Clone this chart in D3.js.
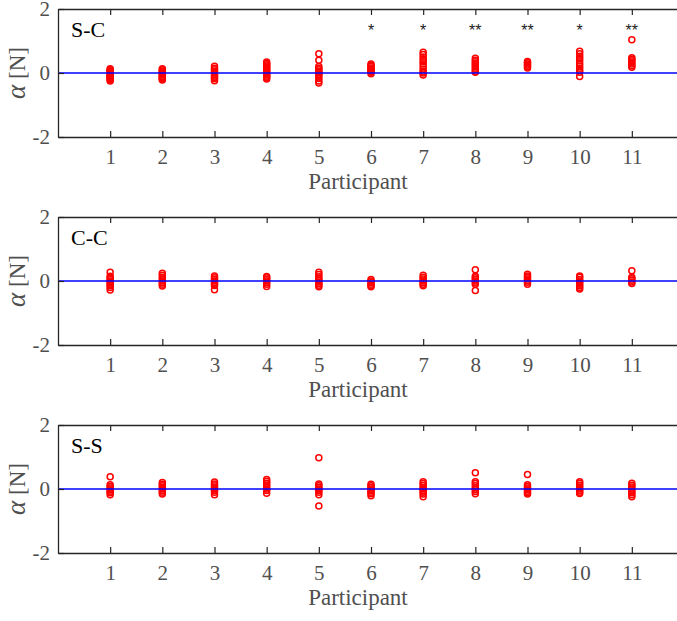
<!DOCTYPE html>
<html>
<head>
<meta charset="utf-8">
<script src="https://cdn.jsdelivr.net/npm/d3@7"></script>
<style>
  html, body { margin: 0; padding: 0; background: #fff; }
  svg { display: block; }
</style>
</head>
<body>
<div id="chart"></div>
<script>
// =========================
// DATA
// =========================
const participants = [1, 2, 3, 4, 5, 6, 7, 8, 9, 10, 11];
const yTicks = [-2, 0, 2];
const panelNames = ["S-C", "C-C", "S-S"];

// alpha [N] per trial, one list per participant
const scValues = [
    [0.13, 0.1, 0.07, 0.04, 0.02, 0, -0.03, -0.06, -0.09, -0.12, -0.15, -0.18, -0.21, -0.25],
    [0.13, 0.1, 0.06, 0.03, 0, -0.03, -0.06, -0.1, -0.13, -0.16, -0.19, -0.22],
    [0.21, 0.15, 0.1, 0.05, 0, -0.05, -0.1, -0.14, -0.18, -0.24],
    [0.34, 0.3, 0.26, 0.22, 0.18, 0.14, 0.1, 0.06, 0.02, -0.02, -0.06, -0.1, -0.14, -0.19],
    [0.6, 0.4, 0.2, 0.15, 0.1, 0.05, 0, -0.05, -0.1, -0.17, -0.25, -0.31],
    [0.28, 0.24, 0.2, 0.16, 0.12, 0.08, 0.05, 0.02, -0.02],
    [0.65, 0.58, 0.5, 0.42, 0.35, 0.28, 0.2, 0.12, 0.05, 0, -0.06],
    [0.46, 0.4, 0.35, 0.3, 0.25, 0.2, 0.15, 0.1, 0.05, 0.02],
    [0.36, 0.32, 0.28, 0.24, 0.2, 0.16],
    [0.68, 0.6, 0.52, 0.45, 0.38, 0.3, 0.22, 0.15, 0.08, 0.02, -0.11],
    [1.04, 0.48, 0.43, 0.38, 0.33, 0.28, 0.23, 0.18]
];
const ccValues = [
    [0.27, 0.15, 0.1, 0.05, 0, -0.05, -0.1, -0.15, -0.2, -0.28],
    [0.24, 0.18, 0.12, 0.06, 0, -0.05, -0.1, -0.16],
    [0.16, 0.1, 0.05, 0, -0.05, -0.1, -0.14, -0.27],
    [0.14, 0.1, 0.05, 0, -0.05, -0.1, -0.17],
    [0.27, 0.2, 0.13, 0.07, 0.02, -0.03, -0.08, -0.13, -0.18],
    [0.05, 0, -0.05, -0.1, -0.15, -0.18],
    [0.18, 0.12, 0.06, 0, -0.05, -0.1, -0.15],
    [0.35, 0.15, 0.1, 0.05, 0, -0.05, -0.1, -0.3],
    [0.21, 0.16, 0.11, 0.06, 0.01, -0.04, -0.1],
    [0.16, 0.12, 0.05, 0, -0.05, -0.1, -0.15, -0.2, -0.25],
    [0.32, 0.12, 0.07, 0.02, -0.03, -0.08]
];
const ssValues = [
    [0.38, 0.13, 0.08, 0.03, -0.02, -0.07, -0.12, -0.18],
    [0.2, 0.15, 0.1, 0.05, 0, -0.05, -0.1, -0.16],
    [0.22, 0.16, 0.1, 0.05, 0, -0.05, -0.1, -0.18],
    [0.3, 0.24, 0.18, 0.12, 0.06, 0, -0.05, -0.13],
    [0.98, 0.16, 0.1, 0.05, 0, -0.05, -0.1, -0.18, -0.53],
    [0.15, 0.1, 0.05, 0, -0.05, -0.1, -0.15, -0.21],
    [0.23, 0.17, 0.11, 0.05, 0, -0.05, -0.1, -0.16, -0.24],
    [0.51, 0.23, 0.17, 0.1, 0.04, -0.02, -0.08, -0.15],
    [0.45, 0.13, 0.08, 0.03, -0.02, -0.07, -0.12, -0.16],
    [0.23, 0.18, 0.12, 0.06, 0, -0.05, -0.1, -0.14],
    [0.18, 0.12, 0.06, 0, -0.06, -0.12, -0.18, -0.24]
];

// significance marks for the S-C panel
const scStars = ["", "", "", "", "", "*", "*", "**", "**", "*", "**"];

const panels = [
    { name: panelNames[0], values: scValues, stars: scStars },
    { name: panelNames[1], values: ccValues, stars: null },
    { name: panelNames[2], values: ssValues, stars: null }
];

// =========================
// LAYOUT
// =========================
const W = 677, H = 621;
const left = 58, right = 684;      // right border sits just outside the window
const panelTop = [9, 217, 425];
const panelH = 128;
const font = "'Liberation Serif', 'Times New Roman', serif";
const axisColor = "#262626";
const textColor = "#505050";

const svg = d3.select("#chart")
    .append("svg")
    .attr("width", W)
    .attr("height", H);

const x = d3.scaleLinear()
    .domain([0, 12])
    .range([left, right]);

panels.forEach((p, pi) => {
    const top = panelTop[pi];
    const y = d3.scaleLinear()
        .domain([-2, 2])
        .range([top + panelH, top]);

    const g = svg.append("g");

    // points
    const pts = [];
    p.values.forEach((vals, i) => {
        vals.forEach(v => pts.push({ part: participants[i], v }));
    });

    g.selectAll("circle.pt")
        .data(pts)
        .enter()
        .append("circle")
        .attr("class", "pt")
        .attr("cx", d => x(d.part))
        .attr("cy", d => y(d.v))
        .attr("r", 3)
        .attr("fill", "none")
        .attr("stroke", "#ff0000")
        .attr("stroke-width", 1.5);

    // zero line
    g.append("line")
        .attr("x1", x(0))
        .attr("x2", x(12))
        .attr("y1", y(0))
        .attr("y2", y(0))
        .attr("stroke", "#0000ff")
        .attr("stroke-width", 1.5);

    // bottom axis (ticks inward)
    const bottom = g.append("g")
        .attr("transform", `translate(0,${top + panelH})`)
        .attr("font-family", null)
        .call(d3.axisBottom(x).tickValues(participants).tickSizeInner(-6).tickSizeOuter(0).tickPadding(12));
    bottom.select(".domain").attr("stroke", axisColor).attr("stroke-width", 1.3);
    bottom.selectAll(".tick line").attr("stroke", axisColor).attr("stroke-width", 1.2);
    bottom.selectAll(".tick text")
        .attr("fill", textColor)
        .style("font-family", font)
        .style("font-size", "21px");

    // top axis, no labels
    const topAx = g.append("g")
        .attr("transform", `translate(0,${top})`)
        .call(d3.axisTop(x).tickValues(participants).tickSizeInner(-6).tickSizeOuter(0).tickFormat(""));
    topAx.select(".domain").attr("stroke", axisColor).attr("stroke-width", 1.3);
    topAx.selectAll(".tick line").attr("stroke", axisColor).attr("stroke-width", 1.2);

    // left axis
    const leftAx = g.append("g")
        .attr("transform", `translate(${left},0)`)
        .call(d3.axisLeft(y).tickValues(yTicks).tickFormat(d => String(d))
            .tickSizeInner(-6).tickSizeOuter(0).tickPadding(8));
    leftAx.select(".domain").attr("stroke", axisColor).attr("stroke-width", 1.3);
    leftAx.selectAll(".tick line").attr("stroke", axisColor).attr("stroke-width", 1.2);
    leftAx.selectAll(".tick text")
        .attr("fill", textColor)
        .style("font-family", font)
        .style("font-size", "21px");

    // axis titles
    g.append("text")
        .attr("x", x(5.75))
        .attr("y", top + panelH + 52)
        .attr("text-anchor", "middle")
        .attr("fill", textColor)
        .style("font-family", font)
        .style("font-size", "23px")
        .text("Participant");

    const yl = g.append("text")
        .attr("transform", `translate(25,${y(0)}) rotate(-90)`)
        .attr("text-anchor", "middle")
        .attr("fill", textColor)
        .style("font-family", font)
        .style("font-size", "23px");
    yl.append("tspan").style("font-style", "italic").style("font-size", "27px").text("α");
    yl.append("tspan").text(" [N]");

    // panel name
    g.append("text")
        .attr("x", left + 13)
        .attr("y", top + 28)
        .attr("fill", "#000")
        .style("font-family", font)
        .style("font-size", "22px")
        .text(p.name);

    // significance stars
    if (p.stars) {
        g.selectAll("text.star")
            .data(p.stars.map((s, i) => ({ s, part: participants[i] })).filter(d => d.s))
            .enter()
            .append("text")
            .attr("class", "star")
            .attr("x", d => x(d.part))
            .attr("y", top + 27)
            .attr("text-anchor", "middle")
            .attr("fill", "#222")
            .style("font-family", "'Liberation Sans', Arial, sans-serif")
            .style("font-size", "16px")
            .text(d => d.s);
    }
});
</script>
</body>
</html>
